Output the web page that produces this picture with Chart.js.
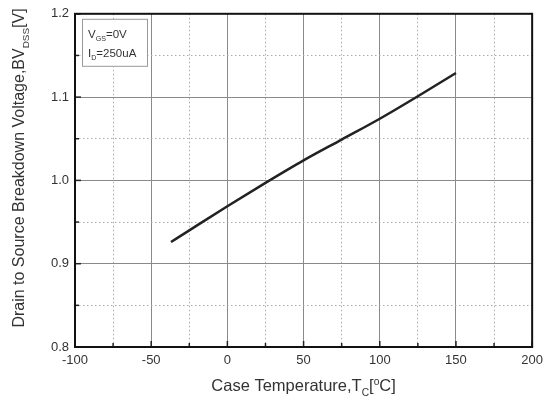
<!DOCTYPE html>
<html>
<head>
<meta charset="utf-8">
<script src="https://cdn.jsdelivr.net/npm/chart.js"></script>
<style>
  body { margin: 0; background: #fff; }
  #wrap { width: 549px; height: 401px; }
</style>
</head>
<body>
<div id="wrap"><canvas id="bvChart"></canvas></div>
<script>
// case temperature (°C) and normalized BVdss
var temps = [-37, -25, 0, 25, 50, 75, 100, 125, 150];
var bvdss = [0.926, 0.940, 0.969, 0.997, 1.024, 1.049, 1.074, 1.101, 1.129];
var xTicks = [-100, -50, 0, 50, 100, 150, 200];
var yTicks = [0.8, 0.9, 1.0, 1.1, 1.2];

var FONT = '"Liberation Sans", Arial, sans-serif';

function isMajorX(v) { return Math.round(v) % 50 === 0; }
function isMajorY(v) { return Math.round(v * 20) % 2 === 0; }

// text with subscript pieces: parts = [[text, 'sub'|'sup'|0], ...]
function drawParts(ctx, parts, x, y, size, align) {
  var total = 0;
  parts.forEach(function(p) {
    ctx.font = (p[1] ? size * 0.62 : size) + 'px ' + FONT;
    total += ctx.measureText(p[0]).width;
  });
  var cx = align === 'center' ? x - total / 2 : x;
  parts.forEach(function(p) {
    ctx.font = (p[1] ? size * 0.62 : size) + 'px ' + FONT;
    ctx.fillText(p[0], cx, p[1] === 'sub' ? y + size * 0.3 : (p[1] === 'sup' ? y - size * 0.35 : y));
    cx += ctx.measureText(p[0]).width;
  });
}

var decorPlugin = {
  id: 'decor',
  afterDraw: function(chart) {
    var ctx = chart.ctx, a = chart.chartArea;
    var xs = chart.scales.x, ys = chart.scales.y;
    ctx.save();
    // inward tick marks
    ctx.strokeStyle = '#222';
    ctx.lineWidth = 1.5;
    xs.ticks.forEach(function(t) {
      var px = xs.getPixelForValue(t.value);
      var len = isMajorX(t.value) ? 6 : 4;
      ctx.beginPath();
      ctx.moveTo(px, a.bottom); ctx.lineTo(px, a.bottom - len); ctx.stroke();
    });
    ys.ticks.forEach(function(t) {
      var py = ys.getPixelForValue(t.value);
      var len = isMajorY(t.value) ? 6 : 4;
      ctx.beginPath();
      ctx.moveTo(a.left, py); ctx.lineTo(a.left + len, py); ctx.stroke();
    });
    // frame
    ctx.strokeStyle = '#111';
    ctx.lineWidth = 2;
    ctx.strokeRect(a.left, a.top, a.right - a.left, a.bottom - a.top);

    // condition box
    ctx.fillStyle = '#fff';
    ctx.strokeStyle = '#999';
    ctx.lineWidth = 1;
    ctx.fillRect(a.left + 7.5, a.top + 5.5, 65, 47);
    ctx.strokeRect(a.left + 7.5, a.top + 5.5, 65, 47);
    ctx.fillStyle = '#333';
    ctx.textBaseline = 'alphabetic';
    ctx.textAlign = 'left';
    drawParts(ctx, [['V', 0], ['GS', 'sub'], ['=0V', 0]], a.left + 13, a.top + 24, 11.5, 'left');
    drawParts(ctx, [['I', 0], ['D', 'sub'], ['=250uA', 0]], a.left + 13, a.top + 43, 11.5, 'left');

    // axis titles
    ctx.fillStyle = '#333';
    drawParts(ctx, [['Case Temperature,T', 0], ['C', 'sub'], ['[', 0], ['o', 'sup'], ['C]', 0]],
      (a.left + a.right) / 2, 391, 16.5, 'center');
    ctx.translate(24, 168);
    ctx.rotate(-Math.PI / 2);
    drawParts(ctx, [['Drain to Source Breakdown Voltage,BV', 0], ['DSS', 'sub'], ['[V]', 0]],
      0, 0, 16, 'center');
    ctx.restore();
  }
};

new Chart(document.getElementById('bvChart'), {
  type: 'line',
  data: {
    datasets: [{
      data: temps.map(function(t, i) { return { x: t, y: bvdss[i] }; }),
      borderColor: '#222',
      borderWidth: 2.5,
      pointRadius: 0,
      cubicInterpolationMode: 'monotone',
      fill: false
    }]
  },
  options: {
    responsive: true,
    maintainAspectRatio: false,
    animation: false,
    layout: { padding: { top: 10, right: 12, left: 0, bottom: 0 } },
    plugins: { legend: { display: false }, tooltip: { enabled: false } },
    scales: {
      x: {
        type: 'linear',
        min: -100, max: 200,
        afterFit: function(s) { s.height = 54; },
        ticks: {
          stepSize: 25,
          autoSkip: false,
          maxRotation: 0,
          padding: 6,
          color: '#333',
          font: { family: FONT, size: 13 },
          callback: function(v) { return xTicks.indexOf(v) >= 0 ? String(v) : ''; }
        },
        grid: {
          drawTicks: false,
          color: function(c) { return isMajorX(c.tick.value) ? '#8a8a8a' : '#aaaaaa'; },
          lineWidth: 1
        },
        border: {
          display: false,
          dash: function(c) { return c.tick && !isMajorX(c.tick.value) ? [1.5, 2.5] : []; }
        }
      },
      y: {
        type: 'linear',
        min: 0.8, max: 1.2,
        afterFit: function(s) { s.width = 75; },
        ticks: {
          stepSize: 0.05,
          autoSkip: false,
          padding: 6,
          color: '#333',
          font: { family: FONT, size: 13 },
          callback: function(v) {
            var r = Math.round(v * 10) / 10;
            return isMajorY(v) && yTicks.indexOf(r) >= 0 ? r.toFixed(1) : '';
          }
        },
        grid: {
          drawTicks: false,
          color: function(c) { return isMajorY(c.tick.value) ? '#8a8a8a' : '#aaaaaa'; },
          lineWidth: 1
        },
        border: {
          display: false,
          dash: function(c) { return c.tick && !isMajorY(c.tick.value) ? [1.5, 2.5] : []; }
        }
      }
    }
  },
  plugins: [decorPlugin]
});
</script>
</body>
</html>
